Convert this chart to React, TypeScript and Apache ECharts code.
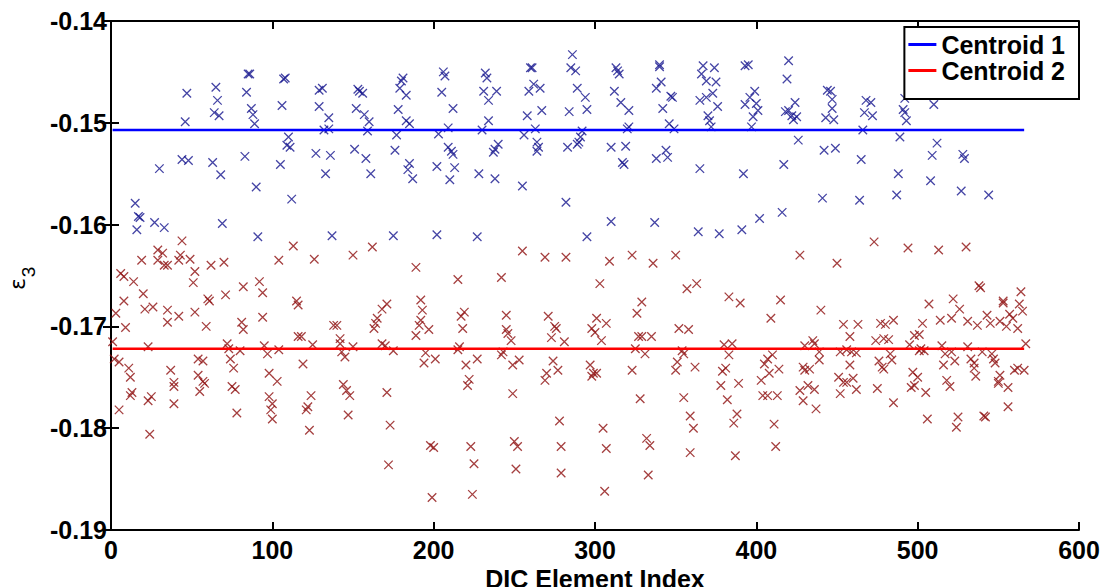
import React, { useEffect, useRef } from "react";
import * as echarts from "echarts";

// Horizontal centroid lines
const centroid1Value = -0.1507;
const centroid2Value = -0.1722;
const centroidIndexRange = [1, 566];

// Axis ranges
const xRange = [0, 600, 100];
const yRange = [-0.19, -0.14, 0.01];

// Cluster 1 (blue crosses): [DIC element index, strain]
const cluster1: [number, number][] = [
  [47, -0.1471], [46, -0.1499], [65, -0.1465], [66, -0.1478], [64, -0.149], [67, -0.1493], [85, -0.1452], [86, -0.1452],
  [84, -0.147], [87, -0.1486], [88, -0.1492], [89, -0.1501], [107, -0.1457], [108, -0.1456], [106, -0.1483], [110, -0.1514],
  [109, -0.1522], [111, -0.1524], [44, -0.1536], [48, -0.1537], [30, -0.1545], [63, -0.1539], [68, -0.1551], [83, -0.1533],
  [90, -0.1563], [105, -0.1541], [112, -0.1575], [15, -0.1579], [17, -0.1592], [18, -0.1593], [16, -0.1605], [27, -0.1598],
  [33, -0.1603], [69, -0.1599], [91, -0.1612],
  [129, -0.1468], [131, -0.1466], [129, -0.1484], [135, -0.1495], [132, -0.1507], [135, -0.1506], [127, -0.153], [136, -0.1532],
  [133, -0.155], [153, -0.1467], [154, -0.1469], [156, -0.1471], [152, -0.1486], [157, -0.1492], [160, -0.1499], [159, -0.1508],
  [151, -0.1526], [158, -0.1535], [161, -0.155], [181, -0.1456], [180, -0.1459], [179, -0.1466], [183, -0.1473], [178, -0.1487],
  [183, -0.1498], [185, -0.1501], [177, -0.1512], [176, -0.1527], [185, -0.154], [184, -0.1546], [187, -0.1555], [206, -0.145],
  [207, -0.1454], [205, -0.147], [212, -0.1486], [209, -0.1505], [203, -0.1511], [209, -0.1524], [211, -0.1528], [212, -0.1531],
  [202, -0.1543], [213, -0.1544], [210, -0.1556], [231, -0.1469], [232, -0.1451], [233, -0.1456], [234, -0.1478], [234, -0.1498],
  [230, -0.1507], [228, -0.155], [137, -0.1611], [175, -0.1611], [202, -0.161], [227, -0.1612],
  [239, -0.1469], [240, -0.1521], [238, -0.1526], [237, -0.1529], [238, -0.1555], [260, -0.1446], [261, -0.1446], [262, -0.1462],
  [259, -0.1469], [266, -0.1466], [267, -0.1488], [258, -0.1493], [263, -0.1506], [256, -0.1512], [264, -0.1519], [265, -0.1524],
  [264, -0.1528], [255, -0.1562], [286, -0.1433], [285, -0.1446], [288, -0.1449], [289, -0.1466], [294, -0.1475], [295, -0.1487],
  [284, -0.1489], [292, -0.1508], [291, -0.1514], [290, -0.1519], [289, -0.1521], [283, -0.1524], [282, -0.1578], [295, -0.1612],
  [313, -0.1446], [314, -0.1449], [315, -0.1452], [312, -0.1469], [316, -0.148], [321, -0.1488], [321, -0.1504], [320, -0.1506],
  [310, -0.1524], [319, -0.1523], [317, -0.1539], [318, -0.1541], [310, -0.1597], [340, -0.1443], [340, -0.1445], [341, -0.146],
  [338, -0.1466], [347, -0.1474], [348, -0.1475], [342, -0.1486], [346, -0.1501], [349, -0.1506], [344, -0.1527], [345, -0.1534],
  [338, -0.1535], [337, -0.1598],
  [367, -0.1444], [366, -0.1452], [374, -0.1446], [369, -0.1459], [375, -0.146], [373, -0.1471], [369, -0.1475], [365, -0.1478],
  [376, -0.1484], [370, -0.1493], [371, -0.1498], [372, -0.1504], [365, -0.1545], [364, -0.1607], [377, -0.1609], [393, -0.1444],
  [395, -0.1443], [399, -0.1469], [396, -0.1475], [393, -0.1482], [400, -0.1481], [401, -0.1488], [398, -0.1494], [397, -0.1504],
  [392, -0.155], [391, -0.1605], [402, -0.1594], [416, -0.1588], [420, -0.1439], [419, -0.1457], [424, -0.148], [418, -0.1489],
  [420, -0.1488], [422, -0.1493], [425, -0.1494], [423, -0.1497], [426, -0.1517], [417, -0.1541], [444, -0.1468], [446, -0.1469],
  [447, -0.1477], [447, -0.1486], [443, -0.1495], [448, -0.1497], [442, -0.1527], [449, -0.1525], [441, -0.1574], [465, -0.1536],
  [464, -0.1576], [468, -0.1478], [467, -0.149], [466, -0.1507],
  [471, -0.148], [472, -0.1493], [491, -0.1487], [492, -0.149], [493, -0.1498], [489, -0.1514], [488, -0.155], [487, -0.1571],
  [510, -0.1482], [512, -0.152], [509, -0.1532], [508, -0.1557], [528, -0.1531], [529, -0.1535], [527, -0.1567], [544, -0.1571],
  [492, -0.1476],
];

// Cluster 2 (dark red crosses): [DIC element index, strain]
const cluster2: [number, number][] = [
  [113, -0.1621], [44, -0.1616], [29, -0.1625], [32, -0.1628], [29, -0.1635], [33, -0.164], [35, -0.164], [19, -0.1635],
  [42, -0.1635], [43, -0.163], [49, -0.1634], [70, -0.1637], [62, -0.164], [104, -0.1635], [6, -0.1648], [8, -0.1651],
  [14, -0.1656], [52, -0.1646], [51, -0.1657], [82, -0.1661], [92, -0.1656], [94, -0.1667], [20, -0.1668], [71, -0.1669],
  [8, -0.1675], [60, -0.1673], [61, -0.1675], [115, -0.1675], [21, -0.1683], [26, -0.1681], [35, -0.1684], [52, -0.1686],
  [3, -0.1687], [35, -0.1696], [42, -0.169], [81, -0.1696], [82, -0.1703], [94, -0.1691], [9, -0.1701], [59, -0.17],
  [116, -0.171], [1, -0.1715], [23, -0.172], [72, -0.1717], [73, -0.1722], [80, -0.1724], [95, -0.1719], [97, -0.1727],
  [104, -0.1723], [2, -0.1732], [5, -0.1735], [11, -0.1741], [12, -0.175], [37, -0.1743], [54, -0.1732], [57, -0.1734],
  [54, -0.1748], [74, -0.1732], [76, -0.1741], [39, -0.1755], [39, -0.1759], [57, -0.1754], [58, -0.1756], [55, -0.1764],
  [75, -0.1759], [77, -0.1762], [98, -0.1746], [103, -0.1754], [13, -0.1765], [12, -0.1768], [25, -0.1769], [23, -0.1773],
  [39, -0.1776], [98, -0.1769], [100, -0.1776], [99, -0.1782], [100, -0.1791], [5, -0.1782], [78, -0.1785], [24, -0.1806],
  [116, -0.1679], [126, -0.1634], [150, -0.163], [162, -0.1622], [189, -0.1642], [215, -0.1654], [118, -0.171], [125, -0.1718],
  [119, -0.1737], [124, -0.1768], [121, -0.1782], [122, -0.1779], [123, -0.1802], [138, -0.1699], [140, -0.1699], [142, -0.1712],
  [142, -0.1717], [143, -0.1725], [145, -0.173], [150, -0.172], [144, -0.1757], [146, -0.1763], [148, -0.1768], [147, -0.1787],
  [171, -0.1678], [168, -0.1683], [165, -0.1692], [164, -0.1697], [163, -0.1702], [168, -0.1717], [170, -0.1719], [175, -0.1724],
  [171, -0.1765], [173, -0.1797], [172, -0.1836], [192, -0.1674], [193, -0.1684], [192, -0.1694], [191, -0.1699], [189, -0.1709],
  [197, -0.1703], [195, -0.1726], [201, -0.1732], [194, -0.1736], [198, -0.1817], [200, -0.1819], [199, -0.1868], [219, -0.1686],
  [217, -0.169], [218, -0.1702], [216, -0.172], [215, -0.1723], [220, -0.1738], [227, -0.1732], [222, -0.1752], [221, -0.1758],
  [223, -0.1818], [225, -0.1835], [224, -0.1865],
  [255, -0.1626], [269, -0.1632], [282, -0.1632], [309, -0.1636], [323, -0.163], [336, -0.1638], [350, -0.163], [242, -0.1652],
  [303, -0.1658], [329, -0.1676], [245, -0.1689], [245, -0.1703], [246, -0.1707], [248, -0.1714], [243, -0.1725], [242, -0.1728],
  [253, -0.1733], [249, -0.1738], [249, -0.1766], [250, -0.1813], [252, -0.1818], [251, -0.184], [271, -0.169], [275, -0.17],
  [276, -0.1702], [273, -0.1711], [281, -0.1715], [274, -0.1734], [277, -0.1743], [270, -0.1746], [269, -0.1753], [278, -0.1793],
  [279, -0.1818], [279, -0.1844], [301, -0.1692], [307, -0.1697], [298, -0.1702], [300, -0.1706], [304, -0.1714], [297, -0.1738],
  [299, -0.1746], [301, -0.1746], [298, -0.1749], [305, -0.18], [307, -0.182], [306, -0.1862], [326, -0.1687], [327, -0.171],
  [329, -0.171], [335, -0.171], [325, -0.1722], [331, -0.1727], [323, -0.1743], [328, -0.1771], [332, -0.181], [334, -0.1817],
  [333, -0.1846], [352, -0.1702], [351, -0.1735], [350, -0.1743],
  [357, -0.1663], [363, -0.1658], [358, -0.1703], [354, -0.1724], [355, -0.1727], [362, -0.174], [355, -0.177], [359, -0.1788],
  [361, -0.18], [359, -0.1824], [383, -0.1671], [390, -0.1677], [380, -0.1718], [385, -0.1717], [383, -0.1728], [381, -0.1741],
  [379, -0.1744], [389, -0.1756], [378, -0.1758], [382, -0.1772], [388, -0.1786], [386, -0.1795], [387, -0.1827], [415, -0.1674],
  [409, -0.1692], [410, -0.1728], [407, -0.1732], [405, -0.1737], [414, -0.1742], [408, -0.1746], [403, -0.1753], [404, -0.1768],
  [407, -0.1768], [413, -0.1768], [411, -0.1796], [412, -0.1818], [427, -0.163], [440, -0.1684], [430, -0.1719], [435, -0.1714],
  [436, -0.1717], [439, -0.1725], [439, -0.1733], [429, -0.174], [433, -0.1742], [430, -0.1743], [427, -0.1763], [432, -0.1758],
  [436, -0.1762], [429, -0.1773], [437, -0.1781], [450, -0.1638], [454, -0.1698], [463, -0.1698], [458, -0.171], [452, -0.1725],
  [456, -0.1723], [459, -0.1725], [462, -0.1726], [458, -0.1738], [451, -0.175], [454, -0.1755], [456, -0.1755], [460, -0.1751],
  [462, -0.1762], [452, -0.1766],
  [473, -0.1617], [494, -0.1623], [513, -0.1625], [530, -0.1622], [538, -0.166], [539, -0.1662], [564, -0.1666], [507, -0.1678],
  [522, -0.1673], [526, -0.1683], [553, -0.1675], [553, -0.1677], [563, -0.1678], [565, -0.1685], [477, -0.1697], [480, -0.1698],
  [485, -0.1694], [474, -0.1714], [479, -0.1712], [482, -0.1713], [503, -0.1697], [498, -0.1709], [501, -0.1708], [495, -0.1718],
  [514, -0.1694], [521, -0.1692], [531, -0.1695], [537, -0.1699], [543, -0.1689], [545, -0.1697], [551, -0.1695], [555, -0.17],
  [557, -0.1688], [559, -0.1692], [562, -0.1702], [567, -0.1717], [502, -0.1722], [504, -0.1724], [501, -0.1724], [483, -0.1727],
  [484, -0.1733], [476, -0.1734], [478, -0.174], [479, -0.1742], [475, -0.1761], [485, -0.1775], [497, -0.1745], [500, -0.175],
  [498, -0.1758], [496, -0.176], [505, -0.1765], [515, -0.1719], [517, -0.1727], [521, -0.1725], [516, -0.1738], [523, -0.1734],
  [518, -0.1753], [520, -0.1759], [506, -0.1791], [525, -0.1789], [524, -0.1799], [531, -0.172], [533, -0.1732], [535, -0.1736],
  [536, -0.1749], [535, -0.1741], [540, -0.1725], [546, -0.1727], [547, -0.1732], [548, -0.1736], [541, -0.1788], [542, -0.1789],
  [551, -0.1748], [550, -0.1754], [550, -0.1756], [556, -0.176], [556, -0.1779], [560, -0.1743], [562, -0.1741], [566, -0.1743],
];

const FONT = "'Liberation Sans', Arial, Helvetica, sans-serif";
const X_MARK = "path://M0,0L10,10M10,0L0,10";

export default function App() {
  const ref = useRef<HTMLDivElement>(null);

  useEffect(() => {
    if (!ref.current) return;
    const chart = echarts.init(ref.current, null, { renderer: "svg" });

    const tickLabel = {
      fontFamily: FONT,
      fontWeight: "bold" as const,
      fontSize: 25,
      color: "#000",
    };
    const axisLine = { show: true, lineStyle: { color: "#000", width: 2 } };
    const axisTick = { show: true, inside: true, length: 8, lineStyle: { color: "#000", width: 2 } };

    chart.setOption({
      animation: false,
      backgroundColor: "#fff",
      grid: { left: 111, right: 29, top: 21, bottom: 57, containLabel: false, outerBoundsMode: "none" },
      legend: {
        data: ["Centroid 1", "Centroid 2"],
        orient: "vertical",
        right: 29,
        top: 27,
        icon: "rect",
        itemWidth: 28,
        itemHeight: 3,
        itemGap: 1,
        padding: [5, 14, 16, 4],
        backgroundColor: "#fff",
        borderColor: "#000",
        borderWidth: 2,
        borderRadius: 0,
        textStyle: {
          fontFamily: FONT,
          fontWeight: "bold",
          fontSize: 25,
          lineHeight: 24,
          color: "#000",
        },
      },
      xAxis: [
        {
          type: "value",
          min: xRange[0],
          max: xRange[1],
          interval: xRange[2],
          position: "bottom",
          name: "DIC Element Index",
          nameLocation: "middle",
          nameGap: 27,
          nameTextStyle: { fontFamily: FONT, fontWeight: "bold", fontSize: 25, color: "#000" },
          axisLine,
          axisTick,
          axisLabel: { ...tickLabel, margin: 7 },
          splitLine: { show: false },
        },
        {
          type: "value",
          min: xRange[0],
          max: xRange[1],
          interval: xRange[2],
          position: "top",
          axisLine,
          axisTick,
          axisLabel: { show: false },
          splitLine: { show: false },
        },
      ],
      yAxis: [
        {
          type: "value",
          min: yRange[0],
          max: yRange[1],
          interval: yRange[2],
          position: "left",
          axisLine,
          axisTick,
          axisLabel: { ...tickLabel, margin: 4, formatter: (v: number) => v.toFixed(2) },
          splitLine: { show: false },
        },
        {
          type: "value",
          min: yRange[0],
          max: yRange[1],
          interval: yRange[2],
          position: "right",
          axisLine,
          axisTick,
          axisLabel: { show: false },
          splitLine: { show: false },
        },
      ],
      graphic: [
        {
          type: "text",
          x: 17,
          y: 284,
          rotation: Math.PI / 2,
          style: {
            text: "ε",
            fontFamily: "'DejaVu Sans', sans-serif",
            fontSize: 22,
            fill: "#000",
            align: "center",
            verticalAlign: "middle",
          },
        },
        {
          type: "text",
          x: 28,
          y: 272,
          rotation: Math.PI / 2,
          style: {
            text: "3",
            fontFamily: FONT,
            fontSize: 19,
            fill: "#000",
            align: "center",
            verticalAlign: "middle",
          },
        },
      ],
      series: [
        {
          name: "Cluster 1",
          type: "scatter",
          xAxisIndex: 0,
          yAxisIndex: 0,
          symbol: X_MARK,
          symbolSize: 8.5,
          itemStyle: { color: "transparent", borderColor: "#16168f", borderWidth: 1.3 },
          data: cluster1,
          z: 2,
        },
        {
          name: "Cluster 2",
          type: "scatter",
          xAxisIndex: 0,
          yAxisIndex: 0,
          symbol: X_MARK,
          symbolSize: 8.5,
          itemStyle: { color: "transparent", borderColor: "#8e1010", borderWidth: 1.3 },
          data: cluster2,
          z: 2,
        },
        {
          name: "Centroid 1",
          type: "line",
          xAxisIndex: 0,
          yAxisIndex: 0,
          showSymbol: false,
          symbol: "none",
          color: "#0000ff",
          lineStyle: { color: "#0000ff", width: 2.5 },
          data: [
            [centroidIndexRange[0], centroid1Value],
            [centroidIndexRange[1], centroid1Value],
          ],
          z: 3,
        },
        {
          name: "Centroid 2",
          type: "line",
          xAxisIndex: 0,
          yAxisIndex: 0,
          showSymbol: false,
          symbol: "none",
          color: "#ff0000",
          lineStyle: { color: "#ff0000", width: 2.5 },
          data: [
            [centroidIndexRange[0], centroid2Value],
            [centroidIndexRange[1], centroid2Value],
          ],
          z: 3,
        },
      ],
    });

    return () => chart.dispose();
  }, []);

  return (
    <div
      ref={ref}
      style={{ position: "absolute", left: 0, top: 0, width: 1108, height: 587, background: "#fff" }}
    />
  );
}
